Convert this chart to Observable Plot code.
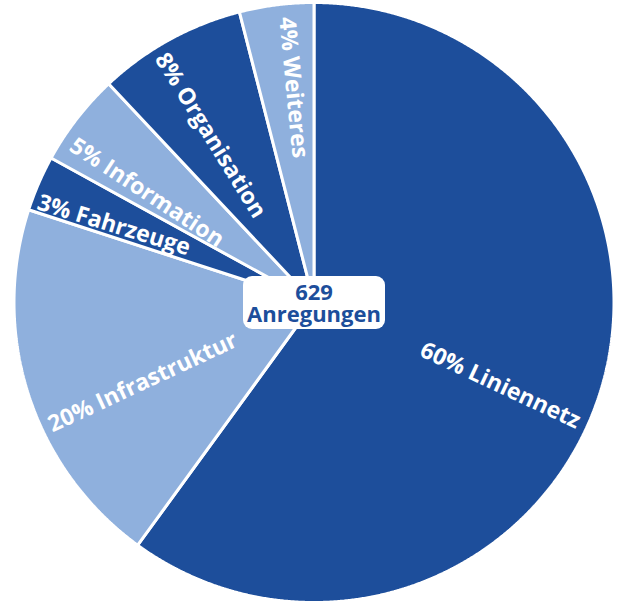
<!DOCTYPE html>
<html>
<head>
<meta charset="utf-8">
<script src="https://cdn.jsdelivr.net/npm/d3@7"></script>
<script src="https://cdn.jsdelivr.net/npm/@observablehq/plot@0.6"></script>
<style>
  html, body { margin: 0; padding: 0; background: #fff; }
  #chart svg { display: block; }
</style>
</head>
<body>
<div id="chart"></div>
<script>
// ---- data ----
const categories = ["Liniennetz", "Infrastruktur", "Fahrzeuge", "Information", "Organisation", "Weiteres"];
const shares = [60, 20, 3, 5, 8, 4]; // percent
const totalCount = 629;
const totalLabel = "Anregungen";

// ---- styling ----
const DARK = "#1d4e9b";
const LIGHT = "#8fb0dd";
const sliceColors = [DARK, LIGHT, DARK, LIGHT, DARK, LIGHT];
const FONT = "'Open Sans', 'Noto Sans', 'DejaVu Sans', sans-serif";
const W = 622, H = 605, R = 300, CX = 313.5, CY = 302;
// label placement tweaks: angular nudge from the slice bisector (deg), radius as a share of R, extra rotation (deg)
const labelNudge = [
  {dAngle: 6, r: 0.68, dRot: 1},
  {dAngle: -7, r: 0.63, dRot: 0},
  {dAngle: -2.3, r: 0.715, dRot: -4},
  {dAngle: -4.5, r: 0.667, dRot: 0},
  {dAngle: -3, r: 0.655, dRot: 0},
  {dAngle: 1.7, r: 0.72, dRot: 0}
];

const rows = categories.map((c, i) => ({cat: c, share: shares[i], label: `${shares[i]}% ${c}`, i}));
const arcs = d3.pie().sort(null).value(d => d.share)(rows);

// slice outlines in unit-radius coordinates (y up)
const step = Math.PI / 720;
const slicePts = arcs.flatMap(a => {
  const pts = [{cat: a.data.cat, x: 0, y: 0}];
  for (let t = a.startAngle; t < a.endAngle; t += step) pts.push({cat: a.data.cat, x: Math.sin(t), y: Math.cos(t)});
  pts.push({cat: a.data.cat, x: Math.sin(a.endAngle), y: Math.cos(a.endAngle)});
  return pts;
});

const labelPts = arcs.map(a => {
  const nudge = labelNudge[a.data.i];
  const m = (a.startAngle + a.endAngle) / 2 + nudge.dAngle * Math.PI / 180;
  const deg = m * 180 / Math.PI;
  let rot = deg - 90;
  if (rot > 90) rot -= 180;
  return {label: a.data.label, x: nudge.r * Math.sin(m), y: nudge.r * Math.cos(m), rotate: rot + nudge.dRot};
});

const roundBox = {
  draw(ctx) {
    const w = 142, h = 53, r = 9, x0 = -w / 2, y0 = -h / 2;
    ctx.moveTo(x0 + r, y0);
    ctx.arcTo(x0 + w, y0, x0 + w, y0 + h, r);
    ctx.arcTo(x0 + w, y0 + h, x0, y0 + h, r);
    ctx.arcTo(x0, y0 + h, x0, y0, r);
    ctx.arcTo(x0, y0, x0 + w, y0, r);
    ctx.closePath();
  }
};

const chart = Plot.plot({
  width: W,
  height: H,
  margin: 0,
  style: {fontFamily: FONT, background: "white"},
  x: {domain: [-CX / R, (W - CX) / R], axis: null},
  y: {domain: [-(H - CY) / R, CY / R], axis: null},
  color: {domain: categories, range: sliceColors},
  marks: [
    Plot.line(slicePts, {x: "x", y: "y", z: "cat", fill: "cat", stroke: "white", strokeWidth: 3, curve: "linear-closed", strokeLinejoin: "miter"}),
    Plot.text(labelPts, {x: "x", y: "y", text: "label", rotate: "rotate", fill: "white", fontSize: 23, fontWeight: "bold", textAnchor: "middle"}),
    Plot.dot([{x: 0, y: 0}], {x: "x", y: "y", symbol: roundBox, fill: "white", stroke: "none", r: 10}),
    Plot.text([{x: 0, y: 0, t: `${totalCount}\n${totalLabel}`}], {x: "x", y: "y", text: "t", fill: DARK, fontSize: 22, fontWeight: "bold", lineHeight: 1.0, dy: 1})
  ]
});
document.getElementById("chart").appendChild(chart);
</script>
</body>
</html>
